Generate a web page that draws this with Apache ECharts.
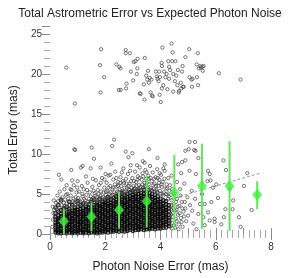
<!DOCTYPE html>
<html>
<head>
<meta charset="utf-8">
<script src="https://cdn.jsdelivr.net/npm/echarts@6/dist/echarts.min.js"></script>
<style>html,body{margin:0;padding:0;background:#fff;}#c{width:300px;height:278px;}</style>
</head>
<body>
<div id="c"></div>
<script>
// ---- data ----
const titleText = 'Total Astrometric Error vs Expected Photon Noise';
const xName = 'Photon Noise Error (mas)';
const yName = 'Total Error (mas)';

// dense core: x column -> y values
const coreColumns = [
 [0.2, "0.2 0.5 0.8 1.1 1.4 1.8 2.1 2.6 3.3"],
 [0.3, "0.1 0.3 0.6 0.9 1.2 1.5 1.7 2.0 2.3 2.8 3.6"],
 [0.4, "0.1 0.4 0.7 1.0 1.3 1.6 1.9 2.2 2.5 3.0 4.2"],
 [0.5, "0.2 0.3 0.6 0.9 1.1 1.4 1.7 2.0 2.3 2.6 3.2"],
 [0.6, "0.1 0.4 0.7 1.0 1.2 1.5 1.8 2.1 2.4 2.7 3.4"],
 [0.7, "0.2 0.5 0.8 1.1 1.3 1.6 1.9 2.2 2.5 2.8 3.1 4.0"],
 [0.8, "0.1 0.3 0.6 0.9 1.2 1.5 1.8 2.0 2.3 2.6 2.9 3.6"],
 [0.9, "0.2 0.4 0.7 1.0 1.3 1.6 1.9 2.2 2.5 2.8 3.0 3.3"],
 [1.0, "0.1 0.4 0.7 0.9 1.2 1.5 1.8 2.1 2.4 2.7 3.0 3.4 4.1"],
 [1.1, "0.2 0.5 0.8 1.1 1.4 1.6 1.9 2.2 2.5 2.8 3.1 3.6"],
 [1.2, "0.1 0.3 0.6 0.9 1.2 1.5 1.8 2.1 2.3 2.6 2.9 3.2 3.8"],
 [1.3, "0.2 0.5 0.8 1.0 1.3 1.6 1.9 2.2 2.5 2.8 3.1 3.4"],
 [1.4, "0.1 0.4 0.7 1.0 1.3 1.6 1.9 2.1 2.4 2.7 3.0 3.3 3.7"],
 [1.5, "0.2 0.5 0.8 1.1 1.4 1.7 1.9 2.2 2.5 2.8 3.1 3.4 4.0"],
 [1.6, "0.2 0.4 0.7 1.0 1.3 1.6 1.9 2.2 2.5 2.7 3.0 3.3 3.6 4.3"],
 [1.7, "0.1 0.3 0.6 0.9 1.2 1.5 1.8 2.1 2.4 2.7 3.0 3.3 3.6 3.9"],
 [1.8, "0.2 0.5 0.8 1.1 1.4 1.7 2.0 2.3 2.6 2.9 3.2 3.5 3.8 4.4"],
 [1.9, "0.2 0.4 0.7 1.0 1.3 1.6 1.9 2.2 2.5 2.8 3.1 3.4 3.7 4.0"],
 [2.0, "0.3 0.6 0.9 1.2 1.5 1.8 2.1 2.4 2.7 3.0 3.3 3.6 3.9 4.2"],
 [2.1, "0.2 0.5 0.8 1.1 1.4 1.7 2.0 2.3 2.6 2.9 3.2 3.5 3.8 4.1 4.6"],
 [2.2, "0.3 0.6 0.9 1.2 1.5 1.8 2.1 2.4 2.7 3.0 3.3 3.6 3.9 4.3"],
 [2.3, "0.3 0.5 0.8 1.1 1.4 1.7 2.0 2.3 2.6 2.9 3.2 3.5 3.8 4.1 4.5"],
 [2.4, "0.4 0.7 1.0 1.3 1.6 1.9 2.2 2.5 2.8 3.1 3.4 3.7 4.0 4.3 4.7"],
 [2.5, "0.3 0.6 0.9 1.2 1.5 1.8 2.1 2.4 2.7 3.0 3.3 3.6 3.9 4.2 4.5 4.9"],
 [2.6, "0.4 0.7 1.0 1.3 1.6 1.9 2.2 2.5 2.8 3.1 3.4 3.7 4.0 4.3 4.6 5.1"],
 [2.7, "0.3 0.6 0.9 1.2 1.5 1.8 2.1 2.4 2.7 3.0 3.3 3.6 3.9 4.2 4.5 4.8"],
 [2.8, "0.4 0.7 1.0 1.3 1.6 1.9 2.2 2.5 2.8 3.1 3.4 3.7 4.0 4.3 4.6 5.0"],
 [2.9, "0.5 0.8 1.1 1.4 1.7 2.0 2.3 2.6 2.9 3.2 3.5 3.8 4.1 4.4 4.7 5.2"],
 [3.0, "0.4 0.7 1.0 1.3 1.6 1.9 2.2 2.5 2.8 3.1 3.4 3.7 4.0 4.3 4.6 4.9 5.3"],
 [3.1, "0.5 0.8 1.1 1.4 1.7 2.0 2.3 2.6 2.9 3.2 3.5 3.8 4.1 4.4 4.7 5.0"],
 [3.2, "0.5 0.7 1.0 1.3 1.6 1.9 2.2 2.5 2.8 3.1 3.4 3.7 4.0 4.3 4.6 5.0 5.4"],
 [3.3, "0.6 0.9 1.2 1.5 1.8 2.1 2.4 2.7 3.0 3.3 3.6 3.9 4.2 4.5 4.8 5.1"],
 [3.4, "0.5 0.8 1.1 1.4 1.7 2.0 2.3 2.6 2.9 3.2 3.5 3.8 4.1 4.4 4.7 5.0 5.5"],
 [3.5, "0.6 0.9 1.2 1.5 1.8 2.1 2.4 2.7 3.0 3.3 3.6 3.9 4.2 4.5 4.8 5.2"],
 [3.6, "0.6 0.8 1.1 1.4 1.7 2.0 2.3 2.6 2.9 3.2 3.5 3.8 4.1 4.4 4.7 5.1"],
 [3.7, "0.7 1.0 1.3 1.6 1.9 2.2 2.5 2.8 3.1 3.4 3.7 4.0 4.3 4.6 5.0"],
 [3.8, "0.6 0.9 1.2 1.5 1.8 2.1 2.4 2.7 3.0 3.3 3.6 3.9 4.2 4.5 4.9"],
 [3.9, "0.7 1.0 1.3 1.6 1.9 2.2 2.5 2.8 3.1 3.4 3.7 4.0 4.3 4.7"],
 [4.0, "0.7 1.0 1.3 1.6 1.9 2.2 2.5 2.8 3.1 3.4 3.7 4.0 4.4"],
 [4.1, "0.8 1.1 1.4 1.7 2.0 2.3 2.6 2.9 3.2 3.5 3.8 4.2"],
 [4.2, "0.8 1.2 1.5 1.8 2.1 2.4 2.7 3.0 3.3 3.7 4.1"],
 [4.3, "1.0 1.3 1.7 2.0 2.4 2.8 3.2 3.6"]
];

// medium-density shell around the core
const shellPoints = [
 [0.08,0.9],[0.1,1.8],[0.12,2.6],[0.1,3.4],[0.14,4.2],[0.22,3.9],[0.27,4.8],[0.33,3.3],[0.35,5.3],[0.42,3.6],
 [0.45,4.6],[0.5,3.9],[0.52,5.6],[0.55,4.3],[0.6,3.8],[0.63,5.0],[0.66,4.4],[0.72,3.6],[0.75,4.8],[0.78,5.5],
 [0.83,4.1],[0.86,6.1],[0.88,3.9],[0.93,4.6],[0.96,5.2],
 [1.02,4.5],[1.05,5.3],[1.1,4.0],[1.15,6.0],[1.18,4.7],[1.22,5.6],[1.27,4.2],[1.32,4.9],[1.36,6.4],[1.41,4.4],
 [1.44,5.2],[1.48,4.7],[1.53,5.9],[1.56,4.5],[1.62,5.1],[1.66,6.7],[1.69,4.6],[1.73,5.5],[1.77,6.1],[1.82,4.8],
 [1.85,5.3],[1.88,7.0],[1.92,4.6],[1.96,5.8],[2.02,4.9],[2.05,6.4],[2.08,5.4],[2.12,7.3],[2.15,5.0],[2.18,6.0],
 [2.22,4.8],[2.26,5.6],[2.29,6.8],[2.33,5.2],[2.36,7.8],[2.41,5.9],[2.44,5.3],[2.47,6.5],
 [2.52,5.5],[2.55,7.1],[2.58,6.0],[2.62,5.4],[2.65,8.2],[2.68,6.4],[2.72,5.3],[2.75,6.9],[2.78,5.8],[2.82,7.5],
 [2.85,5.5],[2.88,6.3],[2.92,8.6],[2.95,5.8],[2.98,7.0],[3.02,6.0],[3.05,5.6],[3.08,7.8],[3.12,6.5],[3.15,5.5],
 [3.18,7.2],[3.22,6.1],[3.25,8.3],[3.28,5.9],[3.32,6.8],[3.35,7.6],[3.38,5.8],[3.42,6.4],[3.45,8.0],[3.48,6.9],
 [3.52,5.8],[3.55,7.3],[3.58,6.2],[3.62,8.5],[3.65,5.7],[3.68,6.6],[3.72,7.7],[3.75,5.6],[3.78,6.3],[3.82,7.1],
 [3.85,5.5],[3.88,8.1],[3.92,6.0],[3.95,6.8],[3.98,5.4],[4.02,7.4],[4.05,5.9],[4.08,6.5],[4.12,5.2],[4.15,7.9],
 [4.18,5.7],[4.22,6.2],[4.25,4.9],[4.28,7.0],[4.32,5.4],
 [1.03,3.8],[1.25,3.9],[1.47,4.1],[1.67,4.3],[1.87,4.5],[2.07,4.6],[2.27,4.9],[2.48,5.2],[2.67,5.3],[2.87,5.5],
 [3.07,5.7],[3.27,5.7],[3.47,5.9],[3.67,5.5],[3.87,5.3],[4.07,5.0],[4.27,4.4],
 [4.35,0.9],[4.36,2.0],[4.38,3.1],[4.4,4.2],[4.42,1.4],[4.45,2.6],[4.47,3.7],[4.5,5.1],[4.53,0.8],[4.55,1.9],
 [4.58,3.0],[4.6,4.4],[4.63,2.4],[4.66,1.2],[4.68,3.5],[4.71,5.6],[4.74,2.0],[4.77,4.0],[4.8,0.9],[4.83,2.8],
 [4.86,6.3],[4.9,3.2],[4.93,1.6],[4.97,4.6],[5.0,2.3],
 [0.15,3.0],[0.18,2.2],[0.24,3.1],[0.29,4.1],[0.37,2.9],[0.39,4.4],[0.47,3.1],[0.53,3.5],[0.58,4.9],[0.64,3.2],
 [0.69,4.1],[0.74,5.6],[0.79,3.4],[0.85,4.4],[0.91,3.6],[0.95,4.0],[0.98,5.8],
 [1.07,4.2],[1.13,3.7],[1.17,5.0],[1.23,4.4],[1.29,3.7],[1.34,5.5],[1.38,4.0],[1.43,3.8],[1.51,4.3],[1.58,5.4],
 [1.61,3.9],[1.64,4.8],[1.72,4.1],[1.76,5.0],[1.79,4.3],[1.84,6.4],[1.9,4.2],[1.94,5.2],[1.98,4.4],
 [2.03,5.3],[2.06,4.3],[2.11,5.8],[2.14,4.5],[2.19,5.2],[2.24,4.4],[2.28,5.8],[2.31,4.6],[2.35,6.2],[2.38,5.0],
 [2.43,4.8],[2.46,6.0],[2.5,5.0],[2.54,6.4],[2.57,5.3],[2.6,4.9],[2.64,6.6],[2.7,5.8],[2.73,4.9],[2.77,6.3],
 [2.8,5.2],[2.84,6.0],[2.89,5.2],[2.93,6.6],[2.97,5.4],
 [3.01,5.5],[3.04,6.6],[3.1,5.3],[3.13,6.0],[3.17,6.8],[3.2,5.6],[3.24,7.0],[3.3,5.5],[3.34,6.2],[3.37,7.2],
 [3.41,5.6],[3.44,6.0],[3.5,6.4],[3.54,5.5],[3.57,6.9],[3.6,5.5],[3.64,7.0],[3.7,5.4],[3.74,6.1],[3.77,6.9],
 [3.8,5.3],[3.84,6.0],[3.9,5.2],[3.94,6.4],[3.97,7.6],[4.0,5.0],[4.04,6.2],[4.1,4.8],[4.14,6.9],[4.2,5.0],
 [4.24,5.7],[4.3,4.7],[4.34,6.1],[4.38,4.9],[4.42,5.6],
 [4.34,1.5],[4.37,2.5],[4.39,3.6],[4.41,0.7],[4.44,2.1],[4.46,3.2],[4.49,1.1],[4.52,2.9],[4.56,4.0],[4.59,1.6],
 [4.62,3.4],[4.65,0.6],[4.69,2.6],[4.72,4.8],[4.76,1.5],[4.79,3.2],[4.85,2.2],[4.88,4.0],
 [1.3,7.2],[1.55,6.9],[1.97,6.8],[2.4,7.0],[2.6,7.7],[2.9,7.9],[3.15,8.6],[3.5,7.7],[3.9,7.0],[4.1,8.2],
 [4.4,7.3],[4.6,6.5],[4.75,7.6],[1.0,6.6],[0.6,6.1]
];

// sparse points (right side and upper part of the main cloud)
const sparsePoints = [
 [5.05,7.9],[5.07,3.6],[5.13,5.4],[5.19,1.3],[5.25,4.4],[5.28,7.5],[5.37,2.5],[5.43,3.75],[5.55,2.1],[5.6,1.1],
 [5.6,3.75],[5.72,2.7],[5.78,1.7],[5.84,4.0],[5.9,5.8],[5.96,1.5],[5.96,1.9],[6.02,6.2],[6.08,4.5],[6.29,2.1],
 [6.35,3.1],[6.61,3.1],[6.63,4.2],[6.84,2.1],[7.02,6.0],[5.3,0.6],[5.5,5.0],[5.15,2.9],[5.7,6.6],[6.2,1.2],
 [6.5,5.6],[7.3,3.0],[6.9,0.9],
 [2.32,11.8],[2.25,11.0],[0.91,10.5],[1.51,10.8],[2.74,10.3],[2.98,10.1],[3.58,10.6],[5.05,11.5],[5.25,11.5],
 [5.22,10.5],[5.27,10.4],[2.22,8.8],[2.84,9.6],[3.36,9.1],[3.42,8.9],[3.89,9.5],[4.15,8.7],[4.64,8.7],[4.78,9.0],
 [4.9,9.2],[6.28,9.2],[6.37,8.0],[5.72,7.9],[5.78,7.5],[5.81,6.7],[7.14,7.6],[0.32,7.4],[0.41,6.8],[0.77,8.0],
 [0.8,6.7],[1.12,8.3],[1.18,8.5],[1.47,8.2],[1.83,8.3],[2.01,7.5],[2.18,7.4],[1.59,9.4],[0.88,10.6],[5.37,9.5],
 [4.9,10.4],[5.02,10.6]
];

// separate high-error cluster
const highPoints = [
 [0.59,20.8],[0.9,16.3],[1.85,23.1],[1.81,21.1],[1.96,19.6],[1.83,17.7],[2.74,23.0],[2.74,22.6],[2.89,22.6],[2.40,21.2],
 [2.51,20.9],[2.55,20.7],[2.93,20.3],[3.01,19.2],[3.03,21.5],[3.09,21.6],[3.17,21.9],[3.43,22.0],[3.16,20.7],[3.14,20.0],
 [2.77,18.8],[2.49,18.0],[2.56,18.0],[2.75,18.2],[3.40,18.7],[3.25,17.6],[3.28,17.5],[3.48,19.8],[3.52,19.3],[3.55,20.4],
 [3.58,18.9],[3.61,19.5],[3.67,19.3],[3.64,17.7],[3.72,17.2],[3.69,17.3],[3.42,16.8],[3.83,20.3],[3.87,19.7],[3.89,19.4],
 [3.93,19.1],[3.98,19.6],[3.95,20.3],[4.01,16.5],[3.97,17.4],[4.04,21.4],[4.05,21.0],[4.07,23.3],[4.10,18.6],[4.05,18.2],
 [4.13,20.3],[4.18,19.6],[4.22,20.0],[4.25,18.1],[4.28,21.6],[4.31,20.9],[4.31,19.4],[4.35,20.5],[4.40,23.8],[4.42,21.6],
 [4.44,22.7],[4.46,20.0],[4.46,17.8],[4.52,19.1],[4.54,21.6],[4.57,19.8],[4.61,18.6],[4.63,20.5],[4.67,17.9],[4.66,17.7],
 [4.73,18.9],[4.75,18.2],[4.78,20.3],[4.80,21.0],[4.81,18.4],[4.84,18.4],[4.90,22.1],[5.04,23.1],[5.05,19.6],[5.12,19.3],
 [5.14,18.4],[5.16,19.4],[5.31,21.2],[5.32,19.6],[5.35,22.6],[5.36,18.6],[5.39,20.7],[5.44,21.0],[5.46,20.8],[5.52,20.9],
 [5.53,20.4],[5.56,21.0],[6.11,20.1],[6.90,19.3]
];

// binned means with error bars (green)
const binX    = [0.5, 1.5, 2.5, 3.5, 4.5, 5.5, 6.5, 7.5];
const binMean = [1.6, 2.15, 3.0, 4.1, 5.2, 6.0, 6.0, 4.9];
const binLow  = [0.0, 0.33, 0.66, 0.8, 0.45, 0.66, 0.37, 3.1];
const binHigh = [3.1, 3.9, 5.3, 7.3, 9.9, 11.3, 11.6, 6.6];

// 1:1 reference line
const refLine = [[0, 0], [7.65, 7.65]];

// ---- build ----
const core = [];
coreColumns.forEach(([x, s]) => s.split(' ').forEach(v => core.push([x, parseFloat(v)])));
const others = [].concat(shellPoints, sparsePoints, highPoints);

const FONT = 'Liberation Sans, Arial, sans-serif';
const tickGray = '#8a8a8a';
const chart = echarts.init(document.getElementById('c'), null, {renderer: 'canvas'});
chart.setOption({
  animation: false,
  backgroundColor: '#fff',
  textStyle: {fontFamily: FONT},
  title: {text: titleText, left: 'center', top: 3,
    textStyle: {fontSize: 12, fontWeight: 'normal', color: '#222', fontFamily: FONT}},
  grid: {left: 45, right: 29, top: 26, bottom: 41, containLabel: false},
  xAxis: [
    {type: 'value', min: 0, max: 8, interval: 2, position: 'bottom',
     axisLine: {show: false}, splitLine: {show: false},
     axisTick: {show: true, inside: false, length: 6, lineStyle: {color: tickGray}},
     minorTick: {show: true, splitNumber: 10, length: 4, lineStyle: {color: '#a8a8a8'}},
     axisLabel: {fontSize: 10, color: '#333', margin: 8, fontFamily: FONT},
     name: xName, nameLocation: 'middle', nameGap: 27,
     nameTextStyle: {fontSize: 12, color: '#222', fontFamily: FONT}},
    {type: 'value', min: 0, max: 8, interval: 1, position: 'top',
     axisLine: {show: false}, splitLine: {show: false},
     axisTick: {show: true, inside: false, length: 6, lineStyle: {color: tickGray}},
     minorTick: {show: true, splitNumber: 5, length: 4, lineStyle: {color: '#a8a8a8'}},
     axisLabel: {show: false}}
  ],
  yAxis: [
    {type: 'value', min: 0, max: 26, interval: 5, position: 'left',
     axisLine: {show: false}, splitLine: {show: false},
     axisTick: {show: true, inside: false, length: 6, lineStyle: {color: tickGray}},
     minorTick: {show: true, splitNumber: 5, length: 5, lineStyle: {color: '#a8a8a8'}},
     axisLabel: {fontSize: 10, color: '#333', margin: 8, fontFamily: FONT},
     name: yName, nameLocation: 'middle', nameGap: 28, nameRotate: 90,
     nameTextStyle: {fontSize: 12, color: '#222', fontFamily: FONT}},
    {type: 'value', min: 0, max: 26, interval: 5, position: 'right',
     axisLine: {show: false}, splitLine: {show: false},
     axisTick: {show: true, inside: true, length: 8, lineStyle: {color: tickGray}},
     minorTick: {show: true, splitNumber: 5, length: 6, lineStyle: {color: '#a8a8a8'}},
     axisLabel: {show: false}}
  ],
  series: [
    {type: 'line', data: refLine, symbol: 'none', silent: true, z: 1,
     lineStyle: {color: '#999', width: 1, type: [3, 2]}},
    {type: 'scatter', data: core, symbol: 'circle', symbolSize: 3.6, z: 2,
     itemStyle: {color: 'rgba(0,0,0,0.35)', borderColor: '#000', borderWidth: 1.1}},
    {type: 'scatter', data: others, symbol: 'circle', symbolSize: 3.3, z: 2,
     itemStyle: {color: 'rgba(0,0,0,0)', borderColor: '#3a3a3a', borderWidth: 0.85}},
    {type: 'custom', z: 3,
     data: binX.map((x, i) => [x, binLow[i], binHigh[i]]),
     renderItem: function (params, api) {
       const a = api.coord([api.value(0), api.value(1)]);
       const b = api.coord([api.value(0), api.value(2)]);
       return {type: 'line', shape: {x1: a[0], y1: a[1], x2: b[0], y2: b[1]},
               style: {stroke: '#5fe85a', lineWidth: 2}};
     }},
    {type: 'scatter', z: 4, data: binX.map((x, i) => [x, binMean[i]]),
     symbol: 'diamond', symbolSize: [10, 12],
     itemStyle: {color: '#3ef03a'}}
  ]
});
</script>
</body>
</html>
